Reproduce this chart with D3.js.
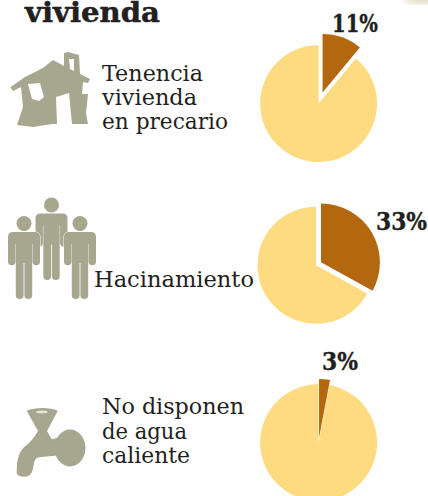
<!DOCTYPE html>
<html><head><meta charset="utf-8">
<script src="https://cdnjs.cloudflare.com/ajax/libs/d3/7.8.5/d3.min.js"></script>
<style>html,body{margin:0;padding:0;background:#fff}svg{display:block}</style></head>
<body><div id="c"></div>
<script>
const titleText = "vivienda";
const categories = ["Tenencia vivienda en precario", "Hacinamiento", "No disponen de agua caliente"];
const shares = [11, 33, 3];
const shareLabels = ["11%", "33%", "3%"];
const textLines = [["Tenencia", "vivienda", "en precario"], ["Hacinamiento"], ["No disponen", "de agua", "caliente"]];

const W = 428, H = 496, R = 58.5;
const COL = {light:"#FEDB80", dark:"#B3670E", icon:"#A7A78F", ink:"#231F20"};
const SERIF = "'DejaVu Serif', serif";
const pieLayout = [{cx:318.6, cy:103.5, off:11.7, r:R}, {cx:316, cy:265.3, off:5.8, r:R+0.4}, {cx:318.6, cy:442.5, off:5, r:R}];
const textLayout = [{x:102, y:81, w:[101,95,126]}, {x:94, y:287.3, w:[160]}, {x:102, y:414.3, w:[142,85,88]}];
const labelLayout = [{x:332, y:32, w:46}, {x:376, y:230, w:51}, {x:322, y:370, w:36}];
const LINE = 24.2;

const svg = d3.select("#c").append("svg").attr("width", W).attr("height", H).attr("viewBox", `0 0 ${W} ${H}`);

const defs = svg.append("defs");
defs.append("filter").attr("id", "soft").append("feGaussianBlur").attr("stdDeviation", 3);
svg.append("ellipse").attr("cx", 425).attr("cy", -1).attr("rx", 22).attr("ry", 5)
  .attr("fill", "#E4DCC4").attr("filter", "url(#soft)");

svg.append("text").attr("x", 25).attr("y", 21.5)
  .attr("font-family", SERIF).attr("font-weight", 700).attr("font-size", 28)
  .attr("textLength", 135).attr("lengthAdjust", "spacingAndGlyphs")
  .attr("fill", COL.ink).attr("stroke", COL.ink).attr("stroke-width", 0.5).text(titleText);

// pies
const pie = d3.pie().sort(null).startAngle(0).endAngle(2*Math.PI);
shares.forEach((v, i) => {
  const L = pieLayout[i];
  const arcs = pie([v, 100 - v]);
  const arc = d3.arc().innerRadius(0).outerRadius(R);
  const g = svg.append("g").attr("transform", `translate(${L.cx},${L.cy})`);
  g.append("path").attr("d", arc(arcs[1])).attr("fill", COL.light);
  const mid = (arcs[0].startAngle + arcs[0].endAngle) / 2;
  g.append("path")
    .attr("d", d3.arc().innerRadius(0).outerRadius(L.r)(arcs[0]))
    .attr("transform", `translate(${L.off*Math.sin(mid)},${-L.off*Math.cos(mid)})`)
    .attr("fill", COL.dark);
  const T = labelLayout[i];
  const t = svg.append("text")
    .attr("font-family", SERIF).attr("font-weight", 700).attr("font-size", 24)
    .attr("fill", COL.ink).attr("stroke", COL.ink).attr("stroke-width", 0.4).text(shareLabels[i]);
  const natural = t.node().getComputedTextLength();
  t.attr("transform", `translate(${T.x},${T.y}) scale(${T.w / natural},1)`);
});

// row text
textLines.forEach((lines, i) => {
  const T = textLayout[i];
  lines.forEach((s, j) => {
    svg.append("text").attr("x", T.x).attr("y", T.y + j*LINE)
      .attr("font-family", SERIF).attr("font-size", 22)
      .attr("textLength", T.w[j]).attr("lengthAdjust", "spacingAndGlyphs")
      .attr("fill", COL.ink).text(s);
  });
});

// house icon
svg.append("path").attr("fill", COL.icon).attr("fill-rule", "evenodd").attr("d",
 "M10.3,87.3L25,77L43,68L53,60L64,66L64,53L68,52L79,55L80,74L90,79L88,83L83,82L82,94L88,94L86,113L88,124L70,124L52,124L33,127L17,125L23,107L21,87L13,91Z" +
 "M56,97L69,93L72,124L57,124Z" +
 "M28,84L40,83L44,97L39,101L32,99Z" +
 "M69,59L74,59L74,71L70,69Z");

// people icon
function person(x, top, legEnd, stroke) {
  const g = svg.append("g").attr("fill", COL.icon);
  g.append("circle").attr("cx", x).attr("cy", top - 8.5).attr("r", 7.5);
  const p = d3.path();
  const sw = 16, aw = 7.4, r = 5;
  const armEnd = top + 33, crotch = top + 31, lw = 7.8;
  p.moveTo(x - sw + r, top);
  p.lineTo(x + sw - r, top);
  p.quadraticCurveTo(x + sw, top, x + sw, top + r);
  p.lineTo(x + sw, armEnd - 3.5);
  p.arc(x + sw - aw/2, armEnd - 3.5, aw/2, 0, Math.PI);
  p.lineTo(x + sw - aw, top + 12);
  p.lineTo(x + 8.2, top + 12);
  p.lineTo(x + 8.2, legEnd - lw/2);
  p.arc(x + 8.2 - lw/2, legEnd - lw/2, lw/2, 0, Math.PI);
  p.lineTo(x + 0.4, crotch);
  p.lineTo(x - 0.4, crotch);
  p.lineTo(x - 0.4, legEnd - lw/2);
  p.arc(x - 0.4 - lw/2, legEnd - lw/2, lw/2, 0, Math.PI);
  p.lineTo(x - 8.2, top + 12);
  p.lineTo(x - sw + aw, top + 12);
  p.lineTo(x - sw + aw, armEnd - 3.5);
  p.arc(x - sw + aw/2, armEnd - 3.5, aw/2, 0, Math.PI);
  p.lineTo(x - sw, top + r);
  p.quadraticCurveTo(x - sw, top, x - sw + r, top);
  p.closePath();
  const b = g.append("path").attr("d", p.toString());
  if (stroke) b.attr("stroke", "#fff").attr("stroke-width", 1).attr("paint-order", "stroke");
}
person(51.5, 213.5, 280, false);
person(24, 232, 299, true);
person(80, 232, 299, true);

// tap icon
const tap = svg.append("g").attr("fill", COL.icon);
tap.append("path").attr("d",
 "M26.7,410.7C35,407 50,407 57.8,410.7L47,431L51.7,439.3L62,436.7L62,455L39.3,457.3Q35,458 34,463L32.7,470Q31,476.5 25,476.7Q17.5,476.5 16.7,473L17,463Q19,450 26.7,445Q33,440 38,431Z");
tap.append("ellipse").attr("cx", 70).attr("cy", 448).attr("rx", 15.5).attr("ry", 18.5);
tap.append("ellipse").attr("cx", 41.8).attr("cy", 412).attr("rx", 6).attr("ry", 1.5).attr("fill", "#E6E6DC");
</script></body></html>
